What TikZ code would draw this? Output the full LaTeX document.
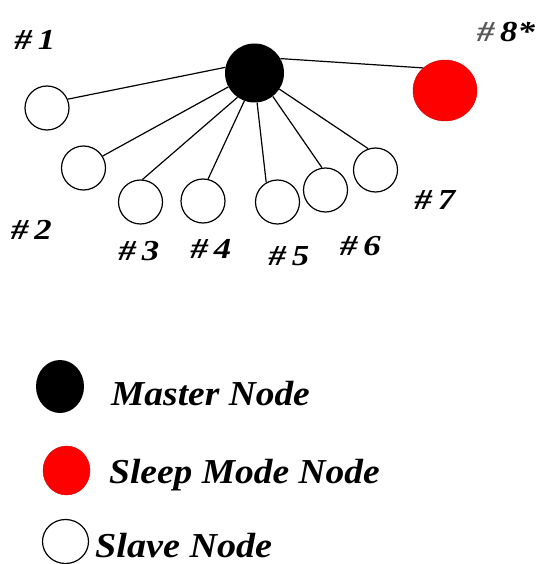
\documentclass[tikz,border=0pt]{standalone}
\usepackage{fontspec}
\setmainfont{Liberation Serif}
\usetikzlibrary{shapes.geometric}
\begin{document}
\begin{tikzpicture}[x=1pt,y=-1pt,
  slave/.style={circle,draw=black,line width=1.2pt,fill=white,minimum size=44pt,inner sep=0pt},
  master/.style={circle,fill=black,minimum size=59pt,inner sep=0pt},
  sleep/.style={ellipse,fill=red,draw=red!80!black,line width=0.4pt,minimum width=64pt,minimum height=61pt,inner sep=0pt},
  link/.style={line width=1.2pt},
  num/.style={font=\fontsize{29}{29}\selectfont\bfseries\itshape,inner sep=0pt},
  legtext/.style={font=\fontsize{35}{35}\selectfont\bfseries\itshape,inner sep=0pt,anchor=base west}]
\useasboundingbox (0,0) rectangle (539,564);
\fill[white] (0,0) rectangle (539,564);
% star network: master in the middle, slaves below, one sleeping node to the right
\node[master] (m) at (254.5,73) {};
\node[sleep] (r) at (445,90.5) {};
\node[slave] (s1) at (47,108) {};
\node[slave] (s2) at (83.5,168) {};
\node[slave] (s3) at (140.5,202) {};
\node[slave] (s4) at (203,201) {};
\node[slave] (s5) at (277.5,202) {};
\node[slave] (s6) at (325.5,190) {};
\node[slave] (s7) at (375.5,170) {};
\draw[link] (m.169) -- (s1.23);
\draw[link] (m.208) -- (s2.32);
\draw[link] (m.235) -- (s3.85);
\draw[link] (m.250) -- (s4.77);
\draw[link] (m.275) -- (s5.120);
\draw[link] (m.308) -- (s6.99);
\draw[link] (m.327) -- (s7.109);
\draw[link] (m.29) -- (r.134);
% node numbers
\node[num] (l1) at (35,40) {\scalebox{1.2}[1]{\#\,1}};
\node[num] (l2) at (31.5,230) {\scalebox{1.2}[1]{\#\,2}};
\node[num] (l3) at (139,251) {\scalebox{1.2}[1]{\#\,3}};
\node[num] (l4) at (211,249) {\scalebox{1.2}[1]{\#\,4}};
\node[num] (l5) at (289,256) {\scalebox{1.2}[1]{\#\,5}};
\node[num] (l6) at (360.5,246) {\scalebox{1.2}[1]{\#\,6}};
\node[num] (l7) at (435,200) {\scalebox{1.2}[1]{\#\,7}};
\node[num] (l8) at (506,32) {\scalebox{1.2}[1]{\textcolor{black!65}{\#}\,8*}};
% legend
\node[ellipse,fill=black,minimum width=48pt,minimum height=53pt,inner sep=0pt] (km) at (60,386.5) {};
\node[legtext] (tm) at (111,405) {\scalebox{1.07}[1]{Master Node}};
\node[ellipse,fill=red,draw=red!80!black,line width=0.4pt,minimum width=47pt,minimum height=49pt,inner sep=0pt] (kr) at (66.5,470.5) {};
\node[legtext] (tr) at (109,483) {\scalebox{1.07}[1]{Sleep Mode Node}};
\node[ellipse,draw=black,line width=1.2pt,minimum width=46pt,minimum height=44pt,inner sep=0pt] (ks) at (65.5,541.5) {};
\node[legtext] (ts) at (95,557) {\scalebox{1.09}[1]{Slave Node}};
\end{tikzpicture}
\end{document}
